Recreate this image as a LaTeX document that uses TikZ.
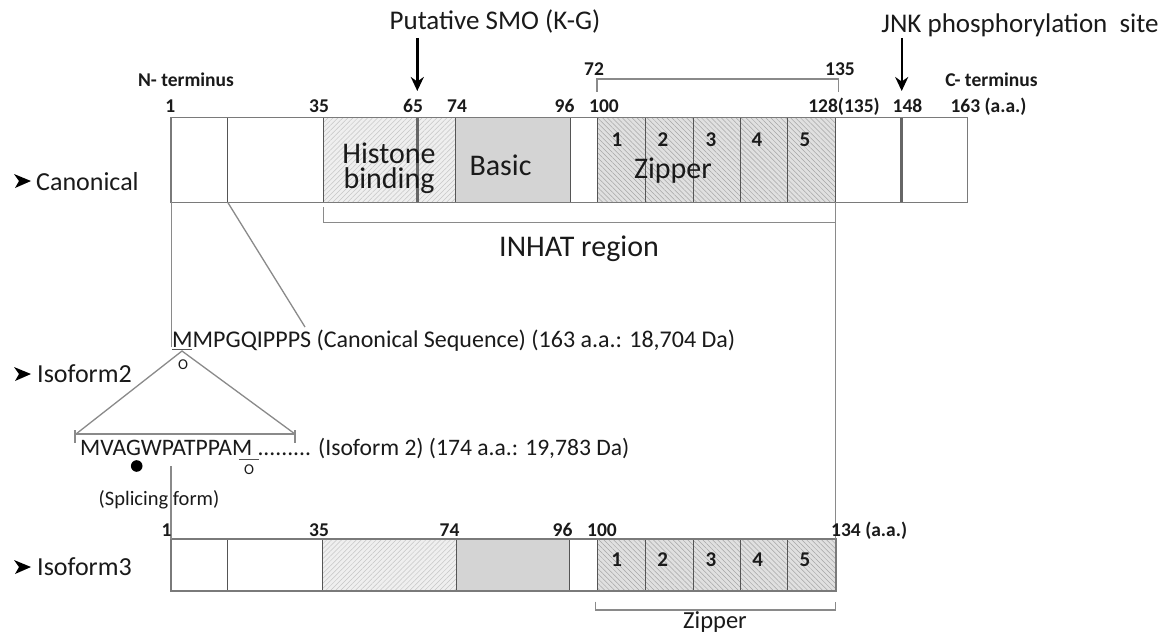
\documentclass[tikz,border=0pt]{standalone}
\usepackage{fontspec}
\setmainfont{Carlito}
\usetikzlibrary{patterns.meta,arrows.meta}
\definecolor{txt}{HTML}{1A1A1A}
\definecolor{edgec}{HTML}{7A7A7A}
\definecolor{divc}{HTML}{555555}
\definecolor{conn}{HTML}{8A8A8A}
\definecolor{hisfill}{HTML}{EFEFEF}
\definecolor{zipfill}{HTML}{E0E0E0}
\definecolor{basfill}{HTML}{D4D4D4}
\definecolor{thkc}{HTML}{666666}
\begin{document}
\begin{tikzpicture}[x=1pt,y=-1pt,
  every node/.style={inner sep=0pt,text=txt},
  big/.style={anchor=base,font=\fontsize{30}{26}\selectfont},
  title/.style={anchor=base,font=\fontsize{27}{30}\selectfont},
  lab/.style={anchor=base,font=\fontsize{26}{30}\selectfont},
  num/.style={anchor=base,font=\bfseries\fontsize{19.5}{22}\selectfont},
  dig/.style={anchor=base,font=\bfseries\fontsize{21}{24}\selectfont},
  seq/.style={anchor=base west,font=\fontsize{24}{28}\selectfont},
  small/.style={anchor=base,font=\fontsize{20.5}{24}\selectfont},
  omark/.style={anchor=center,font=\fontsize{15}{18}\selectfont},
  hisfillst/.style={fill=hisfill},
  hishatch/.style={pattern={Lines[angle=45,distance=3.5pt,line width=0.5pt]},pattern color=gray!45},
  zipfillst/.style={fill=zipfill},
  ziphatch/.style={pattern={Lines[angle=-45,distance=3.5pt,line width=0.5pt]},pattern color=gray!70},
  divln/.style={draw=divc,line width=1pt},
  thkln/.style={draw=thkc,line width=3.5pt},
  outln/.style={draw=edgec,line width=1.6pt},
  connln/.style={draw=conn,line width=1.3pt},
  arr/.style={draw=black,line width=2.4pt,-{Stealth[length=14pt,width=13pt]}},
]
\useasboundingbox (0,0) rectangle (1173,634);
\fill[white] (0,0) rectangle (1173,634);

% ---------- Canonical bar ----------
\coordinate (cTL) at (170.7,117.3);
\coordinate (cBR) at (967.3,202.3);
\fill[hisfillst] (323.3,117.3) rectangle (455,202.3);
\fill[hishatch] (323.3,117.3) rectangle (455,202.3);
\fill[basfill] (455,117.3) rectangle (570,202.3);
\fill[zipfillst] (597.7,117.3) rectangle (835.7,202.3);
\fill[ziphatch] (597.7,117.3) rectangle (835.7,202.3);
\foreach \x in {227.7,323.3,455,570,597.7,645.7,693.3,740.7,787.7,835.7}
  \draw[divln] (\x,117.3) -- (\x,202.3);
\draw[thkln] (417.3,117.3) -- (417.3,202.3);
\draw[thkln] (901.7,117.3) -- (901.7,202.3);
\draw[outln] (cTL) rectangle (cBR);

% ---------- Isoform3 bar ----------
\coordinate (iTL) at (171,539);
\coordinate (iBR) at (835.7,591);
\fill[hisfillst] (322.7,539) rectangle (456,591);
\fill[hishatch] (322.7,539) rectangle (456,591);
\fill[basfill] (456,539) rectangle (569.3,591);
\fill[zipfillst] (597.7,539) rectangle (835.7,591);
\fill[ziphatch] (597.7,539) rectangle (835.7,591);
\foreach \x in {227.7,322.7,456,569.3,597.7,645.7,693.3,740.7,787.7}
  \draw[divln] (\x,539) -- (\x,591);
\draw[outln] (iTL) rectangle (iBR);

% ---------- top labels and arrows ----------
\node[title] (smo) at (495,30) {Putative SMO (K-G)};
\node[title] (jnk) at (1020,33) {JNK phosphorylation\ \ site};
\coordinate (smoS) at (417.3,38);
\coordinate (smoE) at (417.3,91);
\coordinate (jnkS) at (901.7,38);
\coordinate (jnkE) at (901.7,91);
\draw[arr] (smoS) -- (smoE);
\draw[arr] (jnkS) -- (jnkE);

\node[num] (nterm) at (186,87) {N- terminus};
\node[num] (cterm) at (991.5,86) {C- terminus};
\node[num] (n72) at (594,76) {72};
\node[num] (n135) at (840,76) {135};
\coordinate (b1) at (597,92);
\coordinate (b2) at (597,79);
\coordinate (b3) at (838.3,79);
\coordinate (b4) at (838.3,92);
\draw[connln] (b1) -- (b2) -- (b3) -- (b4);

\node[num] (c1) at (170.3,112) {1};
\node[num] (c35) at (319,112) {35};
\node[num] (c65) at (413,112) {65};
\node[num] (c74) at (457,112) {74};
\node[num] (c96) at (564.5,112) {96};
\node[num] (c100) at (604,112) {100};
\node[num] (c128) at (844,112) {128(135)};
\node[num] (c148) at (907.5,112) {148};
\node[num] (c163) at (988.5,112) {163 (a.a.)};

% inside canonical
\node[big] (hist) at (389,163) {Histone};
\node[big] (bind) at (389,188.3) {binding};
\node[big] (basic) at (500.5,175.7) {Basic};
\node[big] (zip) at (673,178) {Zipper};
\node[dig] (z1) at (617,146.7) {1};
\node[dig] (z2) at (663,146.7) {2};
\node[dig] (z3) at (711,146.7) {3};
\node[dig] (z4) at (757,146.7) {4};
\node[dig] (z5) at (805,146.7) {5};

% row labels with arrowheads
\foreach \yy in {181,374,567}
  \fill[black,shift={(14,\yy)}] (0,-7) -- (17,0) -- (1,7) -- (5,0) -- cycle;
\node[lab,anchor=base west] (canon) at (36,190) {Canonical};
\node[lab,anchor=base west] (iso2) at (37,382.5) {Isoform2};
\node[lab,anchor=base west] (iso3) at (37,575.5) {Isoform3};

% INHAT bracket
\coordinate (h1) at (323.3,207);
\coordinate (h2) at (323.3,222.5);
\coordinate (h3) at (835.7,222.5);
\draw[connln] (h1) -- (h2) -- (h3);
\node[big] (inhat) at (579,256) {INHAT region};
\coordinate (v1) at (835.7,202.3);
\coordinate (v2) at (835.7,539);
\draw[connln] (v1) -- (v2);

% sequence 1
\node[seq] (seq1) at (172,347) {MMPGQIPPPS (Canonical Sequence) (163 a.a.: 18,704 Da)};
\coordinate (l1) at (171.5,202.3);
\coordinate (l2) at (171.5,347);
\draw[connln] (l1) -- (l2);
\coordinate (d1) at (227.7,202.3);
\coordinate (d2) at (305,327);
\draw[connln] (d1) -- (d2);
\coordinate (m1a) at (172,349.5);
\coordinate (m1b) at (192,349.5);
\draw[connln,draw=divc] (m1a) -- (m1b);
\node[omark] (o1) at (183,365) {O};

% triangle
\coordinate (apex) at (182,351);
\coordinate (tl) at (76,434);
\coordinate (tr) at (295,434);
\draw[connln] (tl) -- (apex) -- (tr);
\draw[connln] (tl) -- (tr);
\coordinate (tl1) at (75,430);
\coordinate (tl2) at (75,443);
\coordinate (tr1) at (295,430);
\coordinate (tr2) at (295,443);
\draw[connln] (tl1) -- (tl2);
\draw[connln] (tr1) -- (tr2);

% sequence 2
\node[seq,font=\fontsize{23.6}{28}\selectfont] (seq2) at (80,455.7) {MVAGWPATPPAM ......... (Isoform 2) (174 a.a.: 19,783 Da)};
\coordinate (m2a) at (239,459.5);
\coordinate (m2b) at (259,459.5);
\draw[connln,draw=divc] (m2a) -- (m2b);
\node[omark] (o2) at (249,470) {O};
\fill[black] (136.7,466) circle (5.8);
\node[small] (splice) at (159,505) {(Splicing form)};
\coordinate (s1) at (171,466);
\coordinate (s2) at (171,539);
\draw[connln] (s1) -- (s2);

% isoform3 numbers
\node[num] (i1) at (166.5,536) {1};
\node[num] (i35) at (319,536) {35};
\node[num] (i74) at (449.5,536) {74};
\node[num] (i96) at (562.5,536) {96};
\node[num] (i100) at (602,536) {100};
\node[num,anchor=base west] (i134) at (831,536) {134 (a.a.)};
\node[dig] (y1) at (616.7,566.7) {1};
\node[dig] (y2) at (662.7,566.7) {2};
\node[dig] (y3) at (711,566.7) {3};
\node[dig] (y4) at (757.7,566.7) {4};
\node[dig] (y5) at (805,566.7) {5};

% zipper bracket bottom
\coordinate (zb1) at (595.7,601.5);
\coordinate (zb2) at (595.7,610);
\coordinate (zb3) at (835.7,610);
\coordinate (zb4) at (835.7,601.5);
\draw[connln] (zb1) -- (zb2) -- (zb3) -- (zb4);
\node[lab,font=\fontsize{24.5}{28}\selectfont] (zipb) at (715,628.5) {Zipper};
\end{tikzpicture}
\end{document}
